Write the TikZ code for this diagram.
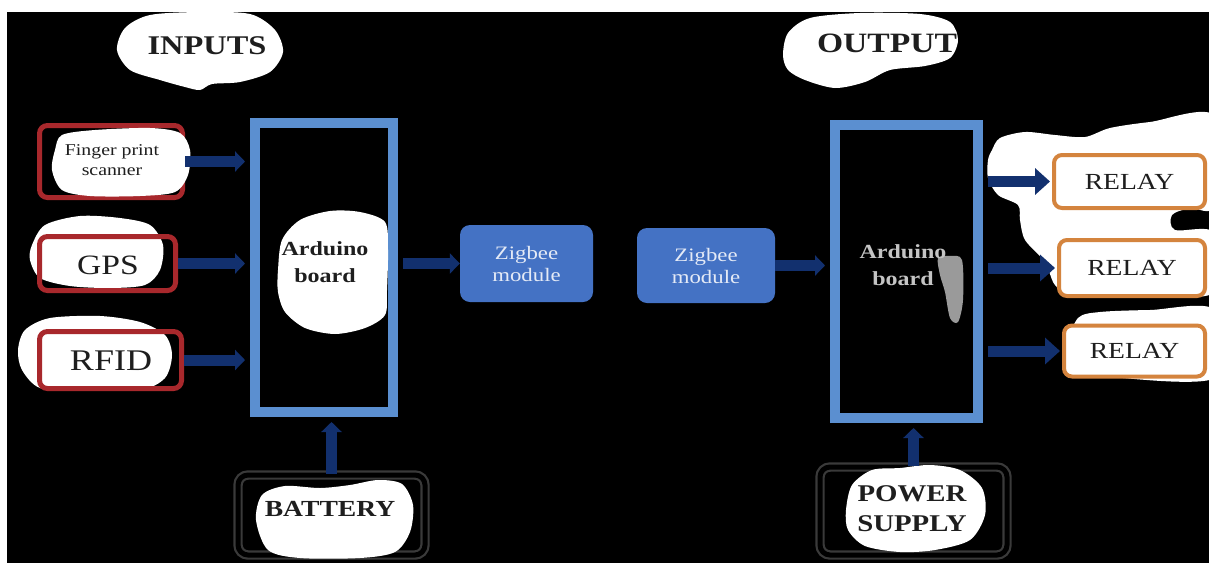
\documentclass[tikz,border=0pt]{standalone}
\usepackage{fontspec}
\setmainfont[FakeStretch=1.2]{Liberation Serif}
\usetikzlibrary{arrows.meta}
\definecolor{navyarrow}{HTML}{12306E}
\definecolor{ardblue}{HTML}{5B8FD0}
\definecolor{zigblue}{HTML}{4472C4}
\definecolor{inred}{HTML}{A8282C}
\definecolor{relayor}{HTML}{D4843E}
\definecolor{boxgray}{HTML}{3A3A3A}
\definecolor{txtdark}{HTML}{1E1E1E}
\definecolor{fadegray}{HTML}{C4C4C4}
\definecolor{patchgray}{HTML}{9A9A9A}
\definecolor{zigtext}{HTML}{E4EAF6}
\begin{document}
\begin{tikzpicture}[x=1pt,y=-1pt,
  blob/.style={fill=white},
  ardbox/.style={draw=ardblue, line width=10pt, inner sep=0pt},
  inbox/.style={draw=inred, line width=5pt, rounded corners=8pt, inner sep=0pt},
  zig/.style={fill=zigblue, rounded corners=10pt, text=zigtext, align=center, inner sep=0pt,
    font=\fontsize{19}{22}\selectfont},
  relay/.style={draw=relayor, fill=white, line width=4pt, rounded corners=8pt, inner sep=0pt,
    text=txtdark, font=\fontsize{23}{26}\selectfont},
  pwr/.style={draw=boxgray, double=black, line width=2.2pt, double distance=5pt,
    rounded corners=10pt, fill=black, inner sep=0pt},
  lbl/.style={text=txtdark, align=center, inner sep=0pt},
  flow/.style={draw=navyarrow, line width=11pt, -{Triangle[length=15pt,width=26pt]}},
  flowsmall/.style={draw=navyarrow, line width=11pt, -{Triangle[length=10pt,width=20pt]}}
]
\useasboundingbox (0,0) rectangle (1209,563);
\fill[white] (0,0) rectangle (1209,563);
\fill[black] (7,12) rectangle (1209,563);

% INPUTS / OUTPUT clouds
\fill[blob] plot[smooth cycle] coordinates {(117,50) (125,28) (150,15) (200,12) (250,14) (275,30) (283,52) (270,72) (240,82) (212,84) (200,90) (185,87) (160,80) (130,70)};
\node[lbl, font=\bfseries\fontsize{27}{30}\selectfont] (tin) at (207,46) {INPUTS};
\fill[blob] plot[smooth cycle] coordinates {(783,55) (788,33) (810,18) (860,13) (920,14) (950,22) (958,40) (950,58) (925,66) (890,70) (865,82) (835,88) (805,80) (788,70)};
\node[lbl, font=\bfseries\fontsize{28}{30}\selectfont] (tout) at (887,43) {OUTPUT};

% input devices
\node[inbox, fill=black, minimum width=143pt, minimum height=72pt] (fp) at (111,161.5) {};
\fill[blob] plot[smooth cycle] coordinates {(55,150) (62,135) (95,130) (150,128) (180,133) (190,150) (188,175) (175,192) (140,196) (90,196) (62,190) (52,170)};
\node[lbl, font=\fontsize{16.5}{20}\selectfont] (fpt) at (112,160) {Finger print\\scanner};

\fill[blob] plot[smooth cycle] coordinates {(32,245) (45,225) (80,216) (120,218) (150,225) (163,245) (160,270) (145,285) (110,288) (70,286) (40,278) (30,260)};
\node[inbox, minimum width=136pt, minimum height=54pt] (gps) at (107.5,263.5) {};
\node[lbl, font=\fontsize{28}{30}\selectfont] (gpst) at (108,265) {GPS};

\fill[blob] plot[smooth cycle] coordinates {(18,350) (25,330) (50,318) (100,316) (140,322) (165,335) (172,355) (165,378) (140,390) (80,390) (40,388) (22,370)};
\node[inbox, minimum width=142pt, minimum height=57pt] (rfid) at (110.5,360) {};
\node[lbl, font=\fontsize{30}{32}\selectfont] (rfidt) at (111,361) {RFID};

% left Arduino
\node[ardbox, minimum width=138pt, minimum height=289pt] (ardL) at (324,267.5) {};
\fill[blob] plot[smooth cycle] coordinates {(278,270) (282,240) (300,220) (330,211) (360,212) (385,222) (388,250) (387,290) (385,315) (365,328) (335,334) (305,328) (285,312) (278,292)};
\node[lbl, font=\bfseries\fontsize{20}{27}\selectfont] (ardLt) at (325,262) {Arduino\\board};

% Zigbee modules
\node[zig, minimum width=133pt, minimum height=77pt] (z1) at (526.5,263.5) {Zigbee\\module};
\node[zig, minimum width=138pt, minimum height=75pt] (z2) at (706,265.5) {Zigbee\\module};

% right Arduino
\node[ardbox, minimum width=143pt, minimum height=293pt] (ardR) at (906.5,271.5) {};
\fill[patchgray] plot[smooth cycle] coordinates {(938,258) (950,256) (962,260) (963,300) (958,322) (950,318) (945,292) (940,275)};
\node[text=fadegray, align=center, inner sep=0pt, font=\bfseries\fontsize{20}{27}\selectfont] (ardRt) at (903,265) {Arduino\\board};

% relays
\fill[blob] plot[smooth cycle] coordinates {(992,150) (1000,138) (1025,132) (1055,135) (1085,137) (1110,128) (1150,122) (1215,116) (1215,205) (1190,208) (1172,215) (1175,230) (1215,233) (1215,292) (1150,296) (1075,296) (1055,285) (1045,262) (1025,240) (1020,220) (1018,205) (998,195) (988,178) (988,160)};
\fill[blob] plot[smooth cycle] coordinates {(1078,318) (1100,312) (1150,310) (1215,310) (1215,378) (1100,376) (1075,370) (1068,345)};
\node[relay, minimum width=151pt, minimum height=53pt] (r1) at (1129.5,181.5) {RELAY};
\node[relay, minimum width=146pt, minimum height=56pt] (r2) at (1132,268) {RELAY};
\node[relay, minimum width=141pt, minimum height=51pt] (r3) at (1134.5,351) {RELAY};

% power sources
\node[pwr, minimum width=187pt, minimum height=80pt] (bat) at (331.5,515) {};
\fill[blob] plot[smooth cycle] coordinates {(256,520) (262,495) (285,486) (320,488) (350,485) (378,480) (402,484) (413,505) (410,532) (395,552) (360,558) (300,558) (268,550)};
\node[lbl, font=\bfseries\fontsize{23}{26}\selectfont] (batt) at (330,509) {BATTERY};

\node[pwr, minimum width=187pt, minimum height=88pt] (psu) at (913.5,511) {};
\fill[blob] plot[smooth cycle] coordinates {(846,510) (852,485) (872,470) (900,468) (930,465) (960,470) (982,488) (985,515) (970,540) (935,550) (900,552) (865,546) (848,530)};
\node[lbl, font=\bfseries\fontsize{24}{30}\selectfont] (psut) at (912,509) {POWER\\SUPPLY};

% connectors
\draw[flowsmall, shorten >=5pt] (fp.east) -- (fp.east -| ardL.west);
\draw[flowsmall, shorten >=5pt] (gps.east) -- (gps.east -| ardL.west);
\draw[flowsmall, shorten >=5pt] (rfid.east) -- (rfid.east -| ardL.west);
\draw[flowsmall, shorten <=5pt] (ardL.east |- z1.west) -- (z1.west);
\draw[flowsmall, shorten >=5pt] (z2.east) -- (z2.east -| ardR.west);
\draw[flow, shorten <=5pt, shorten >=2pt] (ardR.east |- r1.west) -- (r1.west);
\draw[flow, shorten <=5pt, shorten >=2pt] (ardR.east |- r2.west) -- (r2.west);
\draw[flow, shorten <=5pt, shorten >=2pt] (ardR.east |- r3.west) -- (r3.west);
\draw[flowsmall, shorten >=5pt] (bat.north) -- (bat.north |- ardL.south);
\draw[flowsmall, shorten >=5pt] (psu.north) -- (psu.north |- ardR.south);
\end{tikzpicture}
\end{document}
